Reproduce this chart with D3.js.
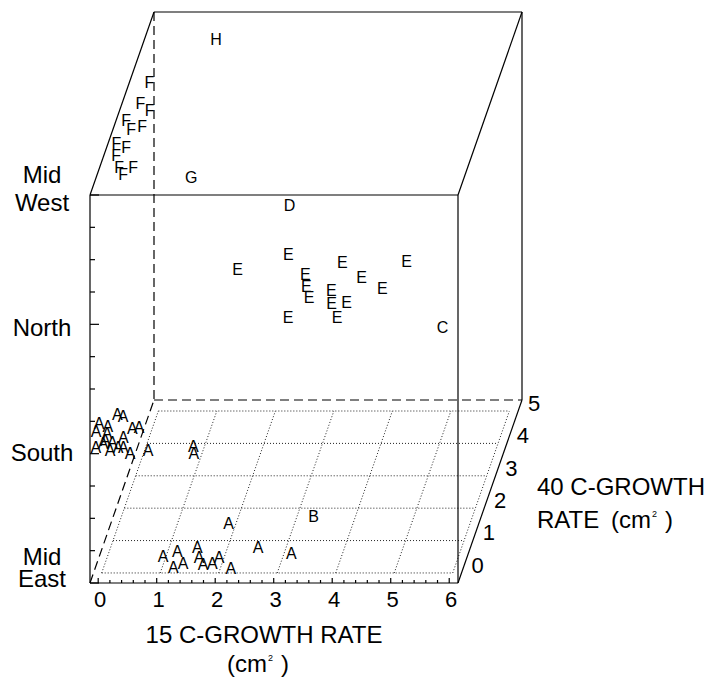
<!DOCTYPE html>
<html>
<head>
<meta charset="utf-8">
<script src="https://cdn.jsdelivr.net/npm/d3@7"></script>
<style>
  body { margin: 0; background: #fff; }
  text { font-family: Arial, "Liberation Sans", sans-serif; fill: #000; }
</style>
</head>
<body>
<div id="chart"></div>
<script>
// regions, bottom to top
const regions = ["Mid East", "South", "North", "Mid West"]
const regionLines = [["Mid", "East"], ["South"], ["North"], ["Mid", "West"]]
const ticks15 = [0, 1, 2, 3, 4, 5, 6]
const ticks40 = [0, 1, 2, 3, 4, 5]

// [letter, 15 C growth, 40 C growth]
const midEastPts = [
  ["A", 1.87, 1.54], ["A", 0.95, 0.52], ["A", 1.16, 0.68], ["A", 1.48, 0.80],
  ["A", 1.19, 0.18], ["A", 1.33, 0.31], ["A", 1.57, 0.49], ["A", 1.68, 0.28],
  ["A", 1.83, 0.31], ["A", 1.91, 0.49], ["A", 2.18, 0.15], ["A", 2.52, 0.80],
  ["A", 3.12, 0.62], ["B", 3.28, 1.76]
]
const southPts = [
  ["A", 0.09, 0.91], ["A", 0.20, 0.85], ["A", -0.17, 0.64], ["A", 0.00, 0.54],
  ["A", -0.17, 0.39], ["A", 0.03, 0.33], ["A", 0.43, 0.48], ["A", 0.54, 0.51],
  ["A", 0.33, 0.20], ["A", 0.04, 0.11], ["A", -0.08, -0.10], ["A", 0.02, 0.02],
  ["A", 0.17, 0.05], ["A", 0.18, -0.20], ["A", 0.30, -0.10], ["A", 0.39, -0.10],
  ["A", 0.54, -0.29], ["A", 0.83, -0.20], ["A", 1.58, -0.07], ["A", 1.63, -0.29]
]
const northPts = [
  ["D", 2.56, 3.37], ["E", 2.83, 1.86], ["E", 2.05, 1.40], ["E", 3.80, 1.61],
  ["E", 4.89, 1.65], ["E", 3.24, 1.24], ["E", 4.22, 1.15], ["E", 3.33, 0.87],
  ["E", 4.64, 0.81], ["E", 3.44, 0.53], ["E", 3.78, 0.75], ["E", 3.86, 0.35],
  ["E", 4.11, 0.38], ["E", 3.20, -0.08], ["E", 4.04, -0.08], ["C", 5.90, -0.39]
]
const midWestPts = [
  ["H", 1.08, 4.51], ["G", 1.48, 0.25], ["F", 0.20, 3.18], ["F", 0.17, 2.53],
  ["F", 0.37, 2.31], ["F", 0.03, 2.01], ["F", 0.17, 1.73], ["F", 0.34, 1.82],
  ["F", 0.00, 1.30], ["F", 0.19, 1.17], ["F", 0.07, 0.92], ["F", 0.19, 0.55],
  ["F", 0.30, 0.34], ["F", 0.43, 0.55]
]

const svg = d3.select("#chart").append("svg")
  .attr("width", 710).attr("height", 679)

// oblique projection of the box
const x = d3.scaleLinear().domain([-0.14, 6.15]).range([90, 458])
const depthX = d3.scaleLinear().domain([-0.31, 5.34]).range([0, 64])
const depthY = d3.scaleLinear().domain([-0.31, 5.34]).range([0, 183])
const y = d3.scaleLinear().domain([0, 3]).range([583, 195])

const proj = (a, b, r) => [x(a) + depthX(b), y(r) - depthY(b)]
const [x0, x1] = x.domain()
const [z0, z1] = depthX.domain()

function seg(g, p, q) {
  g.append("line")
    .attr("x1", p[0]).attr("y1", p[1])
    .attr("x2", q[0]).attr("y2", q[1])
}

// floor grid
const grid = svg.append("g")
  .attr("stroke", "#222").attr("stroke-width", 1).attr("stroke-dasharray", "1,2")
ticks15.forEach(k => seg(grid, proj(k, 0, 0), proj(k, 5, 0)))
ticks40.forEach(j => seg(grid, proj(0, j, 0), proj(6, j, 0)))

// hidden edges
const hidden = svg.append("g")
  .attr("stroke", "#000").attr("stroke-width", 1.2).attr("stroke-dasharray", "9,5")
seg(hidden, proj(x0, z1, 3), proj(x0, z1, 0))
seg(hidden, proj(x0, z1, 0), proj(x1, z1, 0))
seg(hidden, proj(x0, z0, 0), proj(x0, z1, 0))

// visible edges
const edges = svg.append("g").attr("stroke", "#000").attr("stroke-width", 1.2)
seg(edges, proj(x0, z0, 0), proj(x1, z0, 0))
seg(edges, proj(x0, z0, 0), proj(x0, z0, 3))
seg(edges, proj(x1, z0, 0), proj(x1, z0, 3))
seg(edges, proj(x0, z0, 3), proj(x1, z0, 3))
seg(edges, proj(x0, z0, 3), proj(x0, z1, 3))
seg(edges, proj(x0, z1, 3), proj(x1, z1, 3))
seg(edges, proj(x1, z0, 3), proj(x1, z1, 3))
seg(edges, proj(x1, z1, 3), proj(x1, z1, 0))
seg(edges, proj(x1, z0, 0), proj(x1, z1, 0))

// region axis ticks
d3.range(0, 3.001, 0.25).forEach(r => {
  const p = proj(x0, z0, r)
  const len = Number.isInteger(r) ? 9 : 5
  seg(edges, p, [p[0] + len, p[1]])
})
// 15 C axis ticks
d3.range(0, 6.001, 0.2).forEach(v => {
  const p = proj(v, z0, 0)
  const len = Math.abs(v - Math.round(v)) < 1e-6 ? 5 : 3
  seg(edges, p, [p[0], p[1] - len])
})

// region labels
const lineDy = [[-18, 4], [7], [12], [-12, 16]]
regionLines.forEach((lines, i) => {
  lines.forEach((t, k) => {
    svg.append("text")
      .attr("x", 42).attr("y", y(i) + lineDy[i][k])
      .attr("text-anchor", "middle").attr("font-size", 24)
      .text(t)
  })
})

// 15 C tick labels
svg.append("g").selectAll("text").data(ticks15).join("text")
  .attr("x", d => proj(d, z0, 0)[0] + 2).attr("y", 607)
  .attr("text-anchor", "middle").attr("font-size", 22)
  .text(d => d)

// 40 C tick labels
svg.append("g").selectAll("text").data(ticks40).join("text")
  .attr("x", d => proj(x1, d, 0)[0] + 16)
  .attr("y", d => proj(x1, d, 0)[1] - 8)
  .attr("dy", "0.36em")
  .attr("text-anchor", "middle").attr("font-size", 22)
  .text(d => d)

// axis titles
svg.append("text").attr("x", 264).attr("y", 643)
  .attr("text-anchor", "middle").attr("font-size", 24)
  .text("15 C-GROWTH RATE")

function unitLabel(t) {
  t.append("tspan").text("(cm")
  t.append("tspan").attr("font-size", 9).attr("dy", -11).attr("dx", 1).text("2")
  t.append("tspan").attr("dy", 11).attr("dx", 8).text(")")
}
const u1 = svg.append("text").attr("x", 227).attr("y", 672).attr("font-size", 24)
unitLabel(u1)

svg.append("text").attr("x", 537).attr("y", 495).attr("font-size", 24)
  .text("40 C-GROWTH")
svg.append("text").attr("x", 537).attr("y", 528).attr("font-size", 24)
  .text("RATE")
const u2 = svg.append("text").attr("x", 611).attr("y", 528).attr("font-size", 24)
unitLabel(u2)

// sample letters
const pts = svg.append("g")
;[midEastPts, southPts, northPts, midWestPts].forEach((list, r) => {
  pts.append("g").selectAll("text").data(list).join("text")
    .attr("x", d => proj(d[1], d[2], r)[0])
    .attr("y", d => proj(d[1], d[2], r)[1])
    .attr("dy", "0.36em")
    .attr("text-anchor", "middle").attr("font-size", 16)
    .text(d => d[0])
})
</script>
</body>
</html>
